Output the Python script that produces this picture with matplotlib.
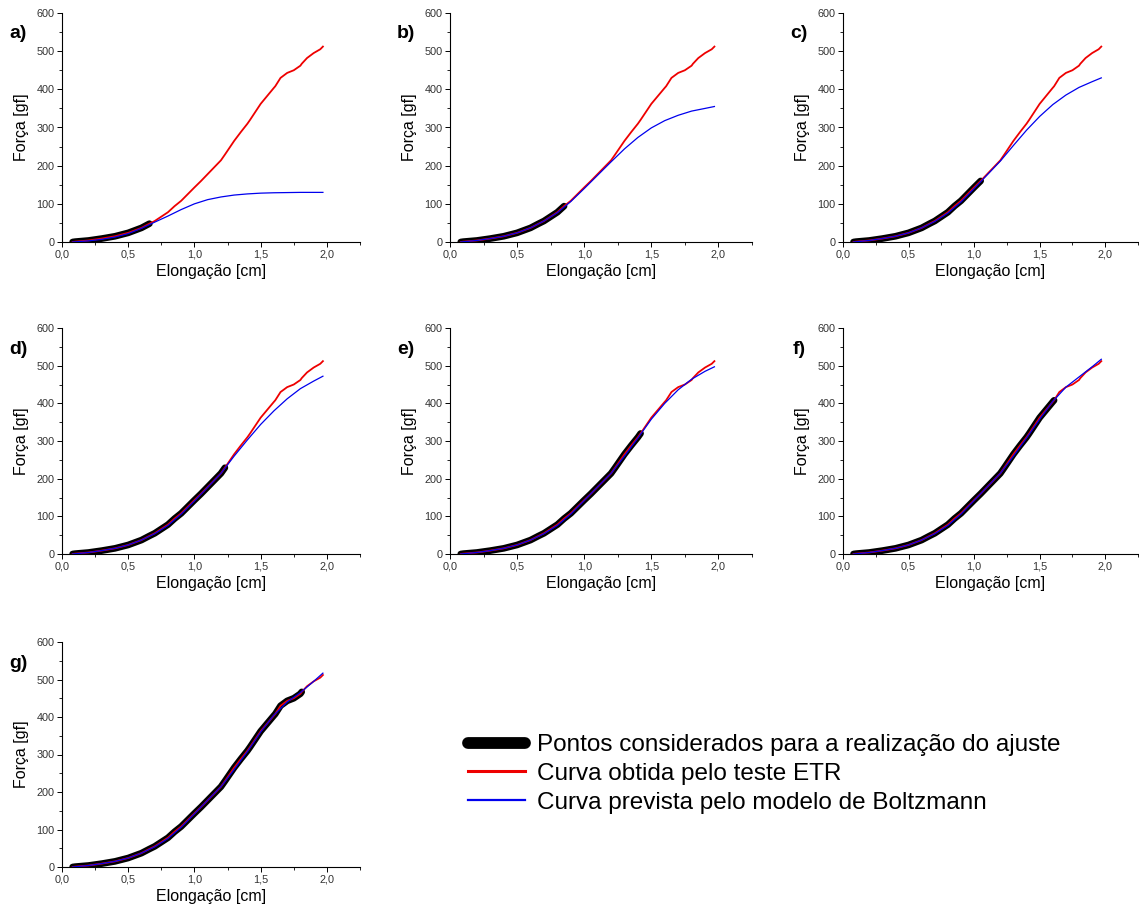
import matplotlib
matplotlib.use("Agg")
import matplotlib.pyplot as plt
import numpy as np
from matplotlib.ticker import MultipleLocator, FixedLocator, FixedFormatter

plt.rcParams['font.family'] = ['Liberation Sans', 'DejaVu Sans']

# ---- data ----
panel_labels = ["a)", "b)", "c)", "d)", "e)", "f)", "g)"]

# ETR experimental curve (same in every panel)
etr_x = [0.08, 0.10, 0.20, 0.30, 0.40, 0.50, 0.60, 0.66, 0.70, 0.80, 0.85, 0.90,
         1.00, 1.05, 1.10, 1.20, 1.23, 1.30, 1.35, 1.40, 1.42, 1.50, 1.60, 1.61,
         1.65, 1.70, 1.75, 1.80, 1.81, 1.85, 1.90, 1.95, 1.97]
etr_y = [0, 1, 4, 9, 15, 24, 37, 48, 55, 78, 94, 108,
         143, 160, 178, 214, 229, 265, 288, 310, 320, 362, 404, 408,
         430, 443, 450, 462, 467, 482, 495, 505, 512]

# upper limit of points used for each fit
fit_limits = [0.66, 0.85, 1.05, 1.23, 1.42, 1.61, 1.81]

# Boltzmann model curves
boltz_x = [0.08, 0.2, 0.3, 0.4, 0.5, 0.6, 0.7, 0.8, 0.9, 1.0, 1.1, 1.2, 1.3, 1.4,
           1.5, 1.6, 1.7, 1.8, 1.9, 1.97]
boltz_a = [0, 3, 7, 13, 22, 36, 52, 68, 85, 100, 111, 118, 123, 126, 128, 129, 129.5, 130, 130, 130]
boltz_b = [0, 4, 9, 15, 24, 37, 55, 77, 106, 140, 175, 210, 244, 274, 299, 318, 332, 343, 350, 355]
boltz_c = [0, 4, 9, 15, 24, 37, 54, 76, 105, 140, 176, 212, 253, 293, 329, 360, 385, 405, 420, 430]
boltz_d = [0, 4, 9, 15, 24, 37, 54, 76, 106, 141, 177, 214, 260, 303, 344, 380, 412, 439, 459, 472]
boltz_e = [0, 4, 9, 15, 24, 37, 54, 76, 106, 142, 178, 214, 260, 308, 358, 400, 436, 464, 485, 497]
boltz_f = [0, 4, 9, 15, 24, 37, 54, 76, 106, 142, 178, 214, 260, 308, 358, 405, 443, 470, 497, 517]
boltz_g = [0, 4, 9, 15, 24, 37, 54, 76, 106, 142, 178, 214, 260, 308, 360, 405, 440, 465, 495, 517]
boltz_all = [boltz_a, boltz_b, boltz_c, boltz_d, boltz_e, boltz_f, boltz_g]

x_ticks = [0.0, 0.5, 1.0, 1.5, 2.0]
x_tick_labels = ["0,0", "0,5", "1,0", "1,5", "2,0"]
y_ticks = [0, 100, 200, 300, 400, 500, 600]

legend_labels = ["Pontos considerados para a realização do ajuste",
                 "Curva obtida pelo teste ETR",
                 "Curva prevista pelo modelo de Boltzmann"]

# ---- figure ----
W, H = 1139, 911
fig = plt.figure(figsize=(W / 100, H / 100), dpi=100)

cols = [(62, 360), (450, 752), (843, 1138)]
rows = [(13, 242), (328, 554), (642, 867)]

etr_x_arr = np.array(etr_x)
etr_y_arr = np.array(etr_y)

for i in range(7):
    r, c = divmod(i, 3)
    x0, x1 = cols[c]
    y0, y1 = rows[r]
    ax = fig.add_axes([x0 / W, 1 - y1 / H, (x1 - x0) / W, (y1 - y0) / H])
    mask = etr_x_arr <= fit_limits[i] + 1e-9
    ax.plot(etr_x_arr[mask], etr_y_arr[mask], color="black", lw=4.8,
            solid_capstyle="round", zorder=1)
    ax.plot(etr_x, etr_y, color="#ee0000", lw=1.3, zorder=2)
    ax.plot(boltz_x, boltz_all[i], color="#0000ee", lw=0.9, zorder=3)

    ax.set_xlim(0, 2.25)
    ax.set_ylim(0, 600)
    ax.xaxis.set_major_locator(FixedLocator(x_ticks))
    ax.xaxis.set_major_formatter(FixedFormatter(x_tick_labels))
    ax.xaxis.set_minor_locator(MultipleLocator(0.25))
    ax.yaxis.set_major_locator(FixedLocator(y_ticks))
    ax.yaxis.set_minor_locator(MultipleLocator(50))
    for s in ("top", "right"):
        ax.spines[s].set_visible(False)
    for s in ("left", "bottom"):
        ax.spines[s].set_linewidth(0.8)
    ax.tick_params(which="major", direction="out", length=3.5, width=0.7,
                   labelsize=7.8, labelcolor="#333333", pad=2)
    ax.tick_params(which="minor", direction="out", length=2, width=0.6)
    ax.set_xlabel("Elongação [cm]", fontsize=11.5, labelpad=3)
    ax.set_ylabel("Força [gf]", fontsize=11.5, labelpad=5)
    ax.text(-44 / (x1 - x0), 1 - 21 / (y1 - y0), panel_labels[i],
            transform=ax.transAxes, fontsize=14, fontweight="bold",
            ha="center", va="center")

handles = [
    plt.Line2D([], [], color="black", lw=8.5, solid_capstyle="round"),
    plt.Line2D([], [], color="#ee0000", lw=2.2),
    plt.Line2D([], [], color="#0000ee", lw=1.6),
]
fig.legend(handles, legend_labels, loc="upper left",
           bbox_to_anchor=(456 / W, 1 - 722 / H), frameon=False,
           fontsize=17.5, handlelength=2.35, handletextpad=0.5,
           labelspacing=0.28, borderpad=0)

fig.savefig("out.png", dpi=100)
